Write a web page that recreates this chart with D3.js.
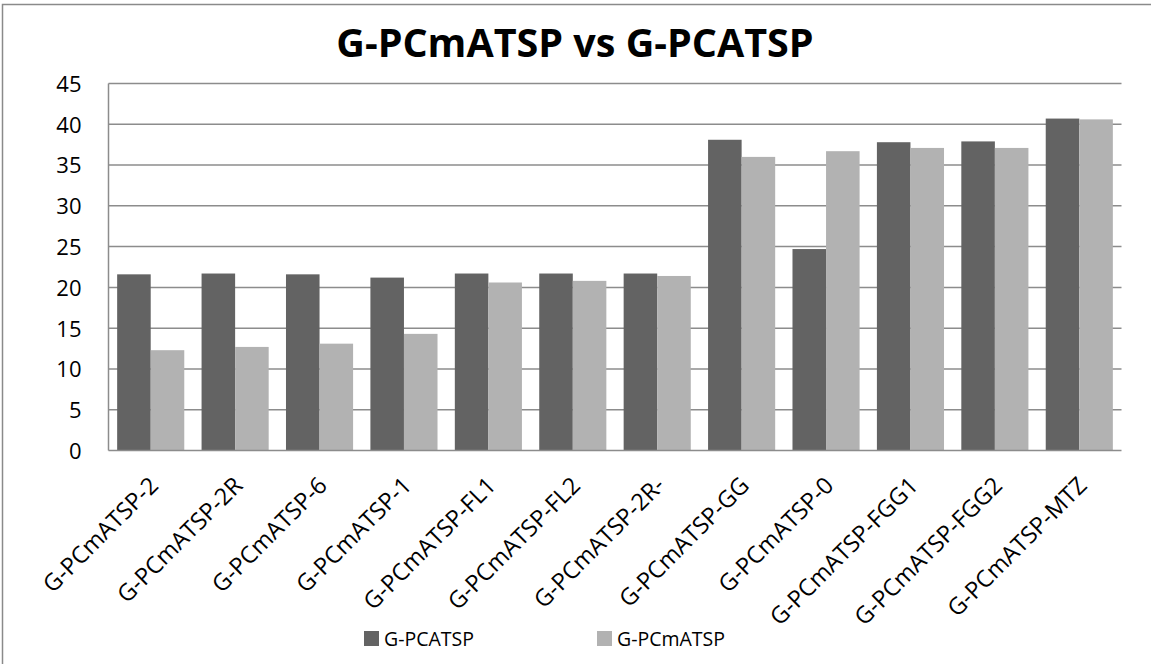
<!DOCTYPE html>
<html>
<head>
<meta charset="utf-8">
<script src="https://cdn.jsdelivr.net/npm/d3@7"></script>
<style>
  html, body { margin: 0; padding: 0; background: #fff; }
  svg { display: block; }
  text { font-family: "Open Sans", "Noto Sans", sans-serif; fill: #000; }
</style>
</head>
<body>
<svg id="chart" width="1151" height="664"></svg>
<script>
// Instance names (x-axis categories)
const categories = [
  "G-PCmATSP-2", "G-PCmATSP-2R", "G-PCmATSP-6", "G-PCmATSP-1",
  "G-PCmATSP-FL1", "G-PCmATSP-FL2", "G-PCmATSP-2R-", "G-PCmATSP-GG",
  "G-PCmATSP-0", "G-PCmATSP-FGG1", "G-PCmATSP-FGG2", "G-PCmATSP-MTZ"
];
const seriesNames = ["G-PCATSP", "G-PCmATSP"];
const pcatsp  = [21.6, 21.7, 21.6, 21.2, 21.7, 21.7, 21.7, 38.1, 24.7, 37.8, 37.9, 40.7];
const pcmatsp = [12.3, 12.7, 13.1, 14.3, 20.6, 20.8, 21.4, 36.0, 36.7, 37.1, 37.1, 40.6];
const yTicks = [0, 5, 10, 15, 20, 25, 30, 35, 40, 45];
const colors = ["#636363", "#b2b2b2"];

const svg = d3.select("#chart");
const W = 1151, H = 664;
const plot = { left: 108.5, right: 1121.5, top: 83.5, bottom: 450.5 };

// outer chart frame
svg.append("rect")
  .attr("x", 2.5).attr("y", 4.5)
  .attr("width", W + 20).attr("height", H + 20)
  .attr("fill", "#fff").attr("stroke", "#8a8a8a").attr("stroke-width", 1.5);

// title
svg.append("text")
  .attr("x", 575).attr("y", 57)
  .attr("text-anchor", "middle")
  .attr("font-weight", "bold").attr("font-size", 39.5)
  .text("G-PCmATSP vs G-PCATSP");

const y = d3.scaleLinear().domain([0, 45]).range([plot.bottom, plot.top]);
const x0 = d3.scaleBand().domain(categories)
  .range([plot.left, plot.right]).paddingInner(0.205).paddingOuter(0.1025);
const x1 = d3.scaleBand().domain(seriesNames).range([0, x0.bandwidth()]);

// horizontal gridlines
svg.append("g").selectAll("line").data(yTicks.filter(d => d > 0)).join("line")
  .attr("x1", plot.left).attr("x2", plot.right)
  .attr("y1", d => y(d)).attr("y2", d => y(d))
  .attr("stroke", "#8c8c8c").attr("stroke-width", 1.5);

// y-axis labels
const yAxis = d3.axisLeft(y).tickValues(yTicks).tickSize(0).tickPadding(0);
const gy = svg.append("g").attr("transform", `translate(${plot.left - 27},0)`).call(yAxis);
gy.select(".domain").remove();
gy.selectAll("text").attr("font-size", 22).attr("font-family", "'Open Sans', sans-serif")
  .attr("fill", "#000").attr("dy", "0.36em");

// bars
const rows = categories.map((c, i) => ({ cat: c, vals: [pcatsp[i], pcmatsp[i]] }));
const groups = svg.append("g").selectAll("g").data(rows).join("g")
  .attr("transform", d => `translate(${x0(d.cat)},0)`);
groups.selectAll("rect").data(d => d.vals.map((v, k) => ({ key: seriesNames[k], v, k })))
  .join("rect")
  .attr("x", d => x1(d.key))
  .attr("width", x1.bandwidth())
  .attr("y", d => y(d.v))
  .attr("height", d => y(0) - y(d.v))
  .attr("fill", d => colors[d.k]);

// axis lines
svg.append("line").attr("x1", plot.left).attr("x2", plot.left)
  .attr("y1", plot.top).attr("y2", plot.bottom)
  .attr("stroke", "#8c8c8c").attr("stroke-width", 1.5);
svg.append("line").attr("x1", plot.left).attr("x2", plot.right)
  .attr("y1", plot.bottom).attr("y2", plot.bottom)
  .attr("stroke", "#8c8c8c").attr("stroke-width", 1.5);

// rotated category labels
svg.append("g").selectAll("text").data(categories).join("text")
  .attr("transform", d => `translate(${x0(d) + x0.bandwidth() / 2 + 9},487) rotate(-45)`)
  .attr("text-anchor", "end")
  .attr("font-size", 23.5)
  .text(d => d);

// legend
const legendX = [364, 597];
const lg = svg.append("g").selectAll("g").data(seriesNames).join("g")
  .attr("transform", (d, i) => `translate(${legendX[i]},631)`);
lg.append("rect").attr("width", 15).attr("height", 15).attr("fill", (d, i) => colors[i]);
lg.append("text").attr("x", 20).attr("y", 15).attr("font-size", 19.5).text(d => d);
</script>
</body>
</html>
